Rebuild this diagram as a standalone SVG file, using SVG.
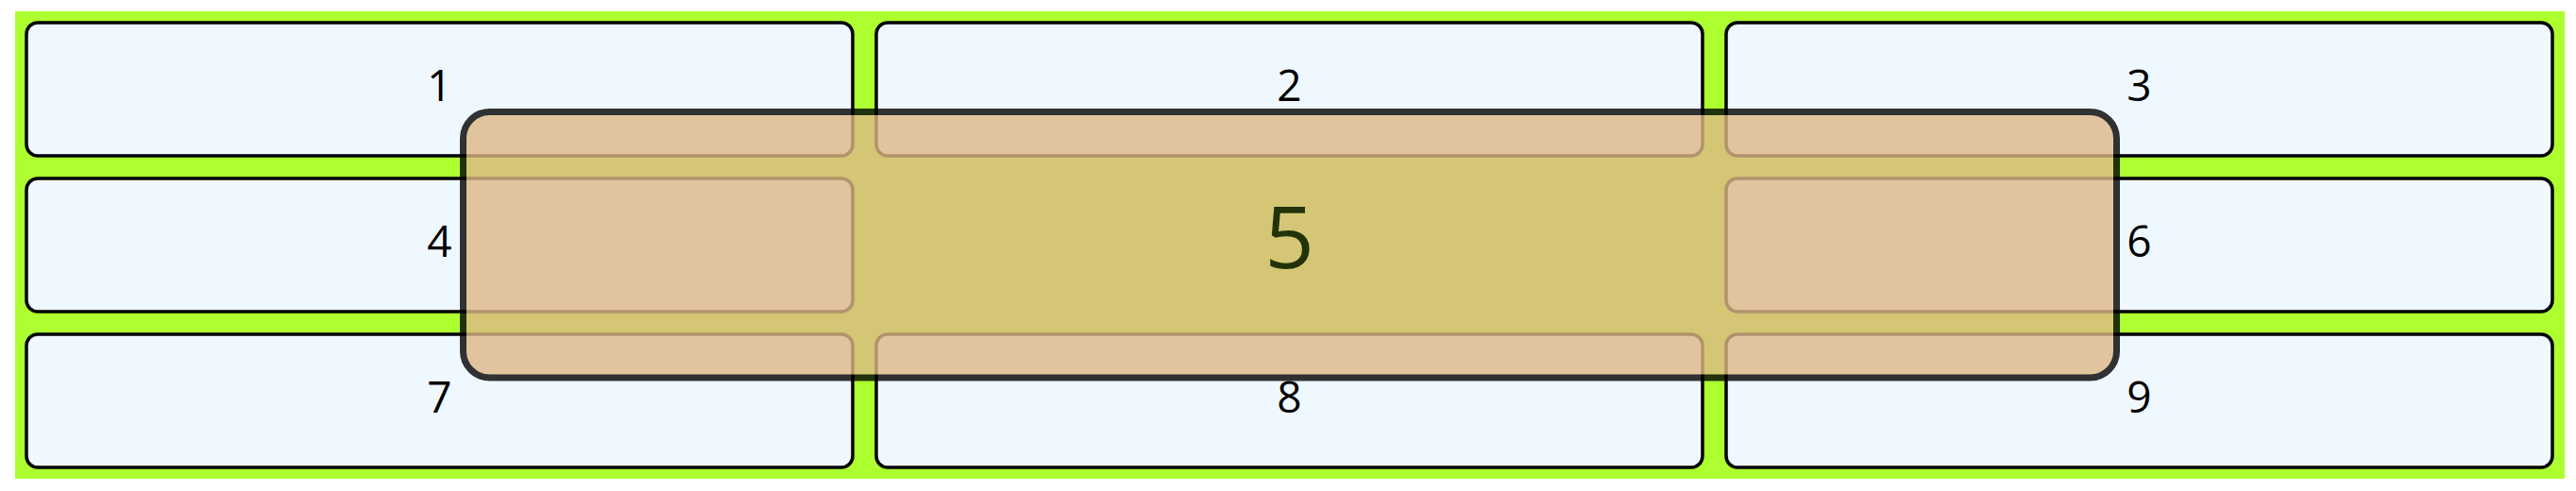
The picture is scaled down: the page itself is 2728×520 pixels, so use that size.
<svg xmlns="http://www.w3.org/2000/svg" width="2728" height="520" viewBox="0 0 2728 520">
  <style>
    .cell { fill: #f0f8ff; stroke: #000000; stroke-width: 3.5; }
    .lbl { font-family: "Open Sans", "Noto Sans", "Liberation Sans", sans-serif; font-size: 46px; fill: #000000; text-anchor: middle; }
    .big { font-family: "Open Sans", "Noto Sans", "Liberation Sans", sans-serif; font-size: 92px; fill: #000000; text-anchor: middle; }
    .over { fill: #deb887; stroke: #000000; stroke-width: 7; }
  </style>
  <rect x="0" y="0" width="2728" height="520" fill="#ffffff"/>
  <rect id="container" x="16" y="12" width="2700" height="495" fill="#adff2f"/>
  <g id="node-1">
    <rect class="cell" x="28" y="24" width="875" height="141" rx="12" ry="12"/>
    <text class="lbl" x="465.5" y="107">1</text>
  </g>
  <g id="node-2">
    <rect class="cell" x="928" y="24" width="875" height="141" rx="12" ry="12"/>
    <text class="lbl" x="1365.5" y="107">2</text>
  </g>
  <g id="node-3">
    <rect class="cell" x="1828" y="24" width="875" height="141" rx="12" ry="12"/>
    <text class="lbl" x="2265.5" y="107">3</text>
  </g>
  <g id="node-4">
    <rect class="cell" x="28" y="189" width="875" height="141" rx="12" ry="12"/>
    <text class="lbl" x="465.5" y="272">4</text>
  </g>
  <g id="node-6">
    <rect class="cell" x="1828" y="189" width="875" height="141" rx="12" ry="12"/>
    <text class="lbl" x="2265.5" y="272">6</text>
  </g>
  <g id="node-7">
    <rect class="cell" x="28" y="354" width="875" height="141" rx="12" ry="12"/>
    <text class="lbl" x="465.5" y="437">7</text>
  </g>
  <g id="node-8">
    <rect class="cell" x="928" y="354" width="875" height="141" rx="12" ry="12"/>
    <text class="lbl" x="1365.5" y="437">8</text>
  </g>
  <g id="node-9">
    <rect class="cell" x="1828" y="354" width="875" height="141" rx="12" ry="12"/>
    <text class="lbl" x="2265.5" y="437">9</text>
  </g>
  <g id="connectors"></g>
  <g id="node-5" opacity="0.8">
    <rect class="over" x="490.5" y="118.5" width="1751" height="281.5" rx="28" ry="28"/>
    <text class="big" x="1365.5" y="284">5</text>
  </g>
</svg>
